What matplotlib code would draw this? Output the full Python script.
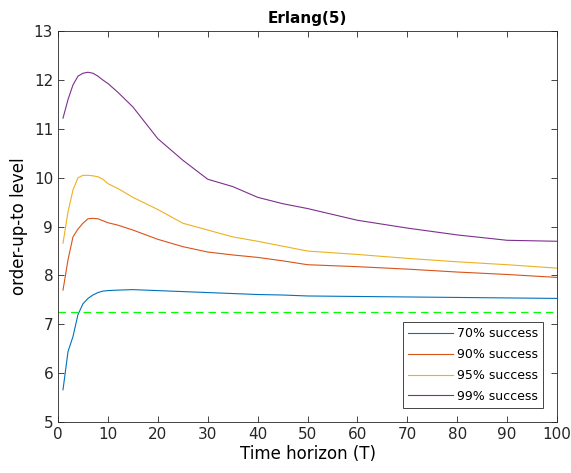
import matplotlib
matplotlib.use("Agg")
import matplotlib.pyplot as plt

# horizon values and order-up-to levels
T = [1, 2, 3, 4, 5, 6, 7, 8, 9, 10, 12, 15, 20, 25, 30, 35, 40, 45, 50, 60, 70, 80, 90, 100]
s70 = [5.66, 6.44, 6.75, 7.2, 7.42, 7.53, 7.6, 7.65, 7.68, 7.69, 7.7, 7.71, 7.69, 7.67,
       7.65, 7.63, 7.61, 7.6, 7.58, 7.57, 7.56, 7.55, 7.54, 7.53]
s90 = [7.7, 8.32, 8.79, 8.95, 9.07, 9.16, 9.17, 9.16, 9.12, 9.08, 9.03, 8.93, 8.74, 8.59,
       8.48, 8.42, 8.37, 8.3, 8.22, 8.18, 8.13, 8.07, 8.02, 7.96]
s95 = [8.66, 9.3, 9.75, 10.0, 10.05, 10.05, 10.04, 10.02, 9.97, 9.88, 9.78, 9.6, 9.35, 9.07,
       8.93, 8.79, 8.7, 8.6, 8.5, 8.43, 8.35, 8.28, 8.22, 8.15]
s99 = [11.22, 11.6, 11.9, 12.08, 12.14, 12.16, 12.14, 12.08, 12.0, 11.93, 11.75, 11.45, 10.8,
       10.36, 9.97, 9.82, 9.6, 9.47, 9.37, 9.13, 8.97, 8.83, 8.72, 8.7]
labels = ["70% success", "90% success", "95% success", "99% success"]
baseline = 7.25

colors = ["#0072BD", "#D95319", "#EDB120", "#7E2F8E"]

fig = plt.figure(figsize=(5.71, 4.73), dpi=100)
ax = fig.add_axes([0.1016, 0.1078, 0.8739, 0.8262])

for ys, c, lab in zip([s70, s90, s95, s99], colors, labels):
    ax.plot(T, ys, color=c, linewidth=0.8, label=lab)
ax.axhline(baseline, color="#00FF00", linestyle=(0, (6, 4)), linewidth=0.9)

ax.set_xlim(0, 100)
ax.set_ylim(5, 13)
ax.set_xticks(range(0, 101, 10))
ax.set_yticks(range(5, 14))
ax.tick_params(direction="in", top=True, right=True, length=4, width=0.6,
               labelsize=11, colors="#262626")
for sp in ax.spines.values():
    sp.set_linewidth(0.6)
    sp.set_color("#262626")

ax.set_title("Erlang(5)", fontsize=11, fontweight="bold")
ax.set_xlabel("Time horizon (T)", fontsize=12, labelpad=2)
ax.set_ylabel("order-up-to level", fontsize=12, labelpad=4)

leg = ax.legend(loc="lower right", fontsize=9, fancybox=False, framealpha=1,
                edgecolor="#262626", borderaxespad=1.1, handlelength=3.6,
                handletextpad=0.25, labelspacing=0.62, borderpad=0.45)
leg.get_frame().set_linewidth(0.6)

fig.savefig("out.png", dpi=100)
